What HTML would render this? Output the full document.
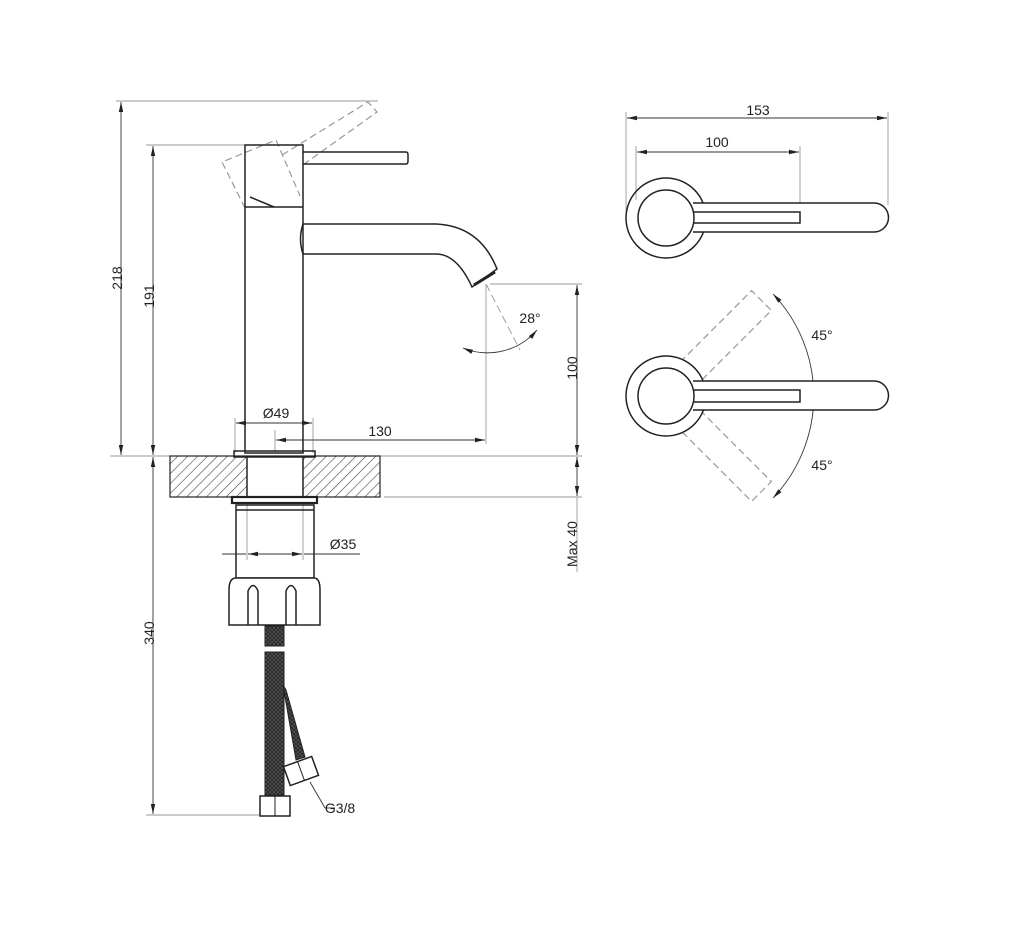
<!DOCTYPE html>
<html><head><meta charset="utf-8"><style>
html,body{margin:0;padding:0;background:#fff;}
svg{display:block;}
text{font-family:"Liberation Sans",sans-serif;font-size:14px;fill:#222;}
</style></head><body>
<svg width="1024" height="927" viewBox="0 0 1024 927" xmlns="http://www.w3.org/2000/svg">
<defs>
<marker id="a" markerWidth="10" markerHeight="6" refX="10" refY="3" orient="auto-start-reverse" markerUnits="userSpaceOnUse"><path d="M0,0.8 L10,3 L0,5.2 z" fill="#222"/></marker>
<pattern id="h" width="7" height="7" patternUnits="userSpaceOnUse" patternTransform="rotate(45)"><line x1="0" y1="0" x2="0" y2="7" stroke="#444" stroke-width="1.2"/></pattern>
<pattern id="braid" width="4" height="4" patternUnits="userSpaceOnUse"><rect width="4" height="4" fill="#555"/><path d="M0,0 L4,4 M4,0 L0,4" stroke="#222" stroke-width="0.8"/></pattern>
</defs>
<g fill="none" stroke="#999" stroke-width="0.9">
<line x1="116" y1="101" x2="378" y2="101"/>
<line x1="146" y1="145" x2="245" y2="145"/>
<line x1="110" y1="456" x2="582" y2="456"/>
<line x1="384" y1="497" x2="582" y2="497"/>
<line x1="490" y1="284" x2="582" y2="284"/>
<line x1="146" y1="815" x2="290" y2="815"/>
<line x1="235" y1="418" x2="235" y2="453"/>
<line x1="313" y1="418" x2="313" y2="453"/>
<line x1="275" y1="430" x2="275" y2="453"/>
<line x1="486" y1="284" x2="486" y2="444"/>
<line x1="247" y1="502" x2="247" y2="560"/>
<line x1="303" y1="502" x2="303" y2="560"/>
<line x1="577" y1="497" x2="577" y2="572"/>
<line x1="626" y1="112" x2="626" y2="215"/>
<line x1="888" y1="112" x2="888" y2="205"/>
<line x1="636" y1="146" x2="636" y2="200"/>
<line x1="800" y1="146" x2="800" y2="210"/>
<line x1="486" y1="284" x2="520" y2="350" stroke-dasharray="8,4"/>
</g>
<g fill="none" stroke="#333" stroke-width="0.9">
<line x1="121" y1="102" x2="121" y2="455" marker-start="url(#a)" marker-end="url(#a)"/>
<line x1="153" y1="146" x2="153" y2="455" marker-start="url(#a)" marker-end="url(#a)"/>
<line x1="153" y1="457" x2="153" y2="814" marker-start="url(#a)" marker-end="url(#a)"/>
<line x1="236" y1="423" x2="312" y2="423" marker-start="url(#a)" marker-end="url(#a)"/>
<line x1="276" y1="440" x2="485" y2="440" marker-start="url(#a)" marker-end="url(#a)"/>
<line x1="577" y1="285" x2="577" y2="455" marker-start="url(#a)" marker-end="url(#a)"/>
<line x1="577" y1="457" x2="577" y2="496" marker-start="url(#a)" marker-end="url(#a)"/>
<line x1="222" y1="554" x2="246" y2="554"/>
<line x1="248" y1="554" x2="302" y2="554" marker-start="url(#a)" marker-end="url(#a)"/>
<line x1="304" y1="554" x2="360" y2="554"/>
<line x1="627" y1="118" x2="887" y2="118" marker-start="url(#a)" marker-end="url(#a)"/>
<line x1="637" y1="152" x2="799" y2="152" marker-start="url(#a)" marker-end="url(#a)"/>
<path d="M463,348 A65,65 0 0 0 537,330" marker-start="url(#a)" marker-end="url(#a)"/>
<path d="M773,294 A148,148 0 0 1 773,498" marker-start="url(#a)" marker-end="url(#a)"/>
<line x1="804" y1="396" x2="822" y2="396"/>
<line x1="310" y1="782" x2="325" y2="808"/>
<line x1="325" y1="808" x2="335" y2="808"/>
</g>
<text x="117" y="283" text-anchor="middle" transform="rotate(-90 117 278)">218</text>
<text x="149" y="301" text-anchor="middle" transform="rotate(-90 149 296)">191</text>
<text x="149" y="638" text-anchor="middle" transform="rotate(-90 149 633)">340</text>
<text x="572" y="373" text-anchor="middle" transform="rotate(-90 572 368)">100</text>
<text x="572" y="549" text-anchor="middle" transform="rotate(-90 572 544)">Max 40</text>
<text x="276" y="418" text-anchor="middle">Ø49</text>
<text x="380" y="436" text-anchor="middle">130</text>
<text x="343" y="549" text-anchor="middle">Ø35</text>
<text x="530" y="323" text-anchor="middle">28°</text>
<text x="340" y="813" text-anchor="middle">G3/8</text>
<text x="758" y="115" text-anchor="middle">153</text>
<text x="717" y="147" text-anchor="middle">100</text>
<text x="822" y="340" text-anchor="middle">45°</text>
<text x="822" y="470" text-anchor="middle">45°</text>
<rect x="170" y="456" width="77" height="41" fill="url(#h)" stroke="none"/>
<rect x="303" y="456" width="77" height="41" fill="url(#h)" stroke="none"/>
<g fill="none" stroke="#222" stroke-width="1.5">
<g stroke="#999" stroke-width="1.2" stroke-dasharray="7,4">
<path d="M245,208 L222,162 L276,140 L300,196"/>
<path d="M282,155 L368,102 L377,112 L300,167"/>
</g>
<rect x="245" y="145" width="58" height="308"/>
<line x1="245" y1="207" x2="303" y2="207"/>
<line x1="250" y1="197" x2="274" y2="207"/>
<path d="M303,152 H406 Q408,152 408,155 V161 Q408,164 406,164 H303"/>
<path d="M303,224 H436 Q480,226 497,269 L472,287 Q457,254 436,254 H303 Q298,239 303,224"/>
<line x1="474" y1="285" x2="495" y2="272" stroke-width="3"/>
<rect x="234" y="451" width="81" height="6"/>
<line x1="247" y1="457" x2="247" y2="497"/>
<line x1="303" y1="457" x2="303" y2="497"/>
<rect x="170" y="456" width="210" height="41" stroke-width="1.2"/>
<rect x="232" y="497" width="85" height="6" stroke-width="2.2"/>
<rect x="236" y="505" width="78" height="73"/>
<line x1="236" y1="510" x2="314" y2="510"/>
<path d="M229,625 V590 Q229,578 236,578 H314 Q320,578 320,590 V625 Z" fill="#fff"/>
<path d="M248,625 V591 Q253,580 258,591 V625"/>
<path d="M286,625 V591 Q291,580 296,591 V625"/>
<rect x="265" y="626" width="19" height="20" fill="url(#braid)" stroke-width="1"/>
<rect x="265" y="652" width="19" height="143" fill="url(#braid)" stroke-width="1"/>
<path d="M283,685 L296,760 L305,757 L286,690 Z" fill="url(#braid)" stroke-width="1"/>
<rect x="260" y="796" width="30" height="20" fill="#fff"/>
<line x1="275" y1="796" x2="275" y2="816" stroke-width="1"/>
<g transform="rotate(-20 301 771)"><rect x="286" y="761" width="30" height="20" fill="#fff"/><line x1="301" y1="761" x2="301" y2="781" stroke-width="1"/></g>
<circle cx="666" cy="218" r="40"/>
<path d="M690,203 H874 A14.5,14.5 0 0 1 874,232 H690 Z" fill="#fff" stroke="none"/>
<path d="M693,203 H874 A14.5,14.5 0 0 1 874,232 H693"/>
<circle cx="666" cy="218" r="28" fill="#fff"/>
<path d="M694,212 H800 V223 H694"/>
<g stroke="#999" stroke-width="1.2" stroke-dasharray="7,4">
<rect x="700" y="382" width="101" height="28" transform="rotate(-45 666 396)"/>
<rect x="700" y="382" width="101" height="28" transform="rotate(45 666 396)"/>
</g>
<circle cx="666" cy="396" r="40" fill="#fff"/>
<path d="M690,381 H874 A14.5,14.5 0 0 1 874,410 H690 Z" fill="#fff" stroke="none"/>
<path d="M693,381 H874 A14.5,14.5 0 0 1 874,410 H693"/>
<circle cx="666" cy="396" r="28" fill="#fff"/>
<path d="M694,390 H800 V402 H694"/>
</g>
</svg>
</body></html>
